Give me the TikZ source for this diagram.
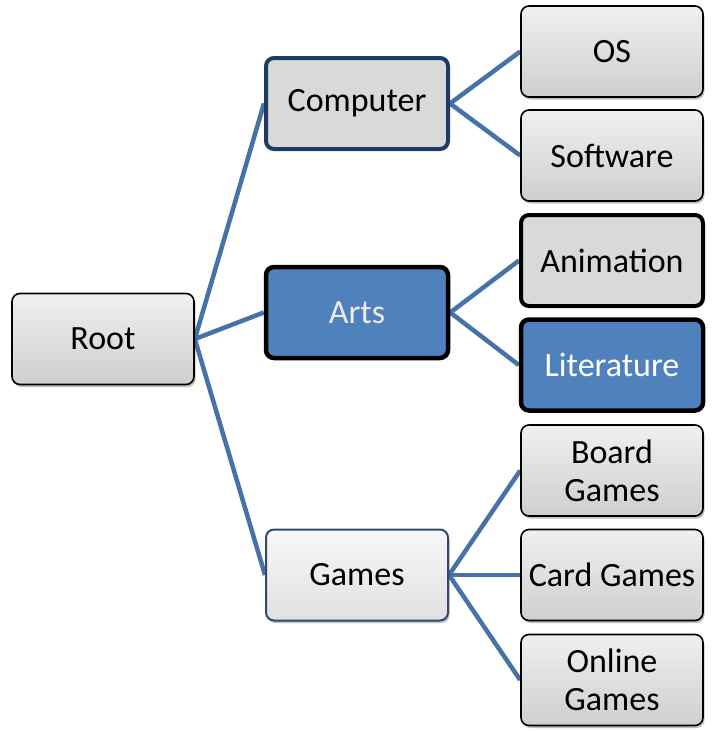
\documentclass[tikz,border=0pt]{standalone}
\usepackage{fontspec}
\setmainfont{Carlito}
\usetikzlibrary{shadows,backgrounds}
\definecolor{linkblue}{HTML}{4672A8}
\definecolor{accent}{HTML}{4F81BD}
\definecolor{darknavy}{HTML}{1F3B63}
\definecolor{gamesedge}{HTML}{2E4A6E}
\definecolor{cream}{HTML}{EEECE1}
\tikzset{
  box/.style={rectangle, rounded corners=8pt, minimum width=182pt, minimum height=91pt,
    inner sep=2pt, align=center, font=\fontsize{34}{38}\selectfont, text=black},
  gradbox/.style={box, draw=black, line width=1.6pt, top color=gray!12, bottom color=gray!38,
    drop shadow={shadow xshift=1.5pt, shadow yshift=-2.5pt, opacity=0.25, fill=black}},
  flatbox/.style={box, fill=gray!30, line width=4pt},
  bluebox/.style={box, fill=accent, draw=black, line width=4.5pt},
  gamesbox/.style={box, draw=gamesedge, line width=2pt, top color=gray!6, bottom color=gray!24,
    drop shadow={shadow xshift=1.5pt, shadow yshift=-2.5pt, opacity=0.25, fill=black}},
  link/.style={draw=linkblue, line width=4.5pt}
}
\begin{document}
\begin{tikzpicture}[x=1pt,y=-1pt]
\useasboundingbox (0,0) rectangle (712,731);
\node[gradbox] (root) at (103,339) {Root};
\node[flatbox, draw=darknavy] (computer) at (357,103.5) {Computer};
\node[bluebox, text=cream] (arts) at (357,312.5) {Arts};
\node[gamesbox] (games) at (357,575) {Games};
\node[gradbox] (os) at (612,51.5) {OS};
\node[gradbox] (software) at (612,155.5) {Software};
\node[flatbox, draw=black] (animation) at (612,260.5) {Animation};
\node[bluebox, text=white] (literature) at (612,365) {Literature};
\node[gradbox] (board) at (612,470.5) {Board\\Games};
\node[gradbox] (card) at (612,575) {Card Games};
\node[gradbox] (online) at (612,680) {Online\\Games};
\begin{scope}[on background layer]
\draw[link] (root.east) -- (computer.west);
\draw[link] (root.east) -- (arts.west);
\draw[link] (root.east) -- (games.west);
\draw[link] (computer.east) -- (os.west);
\draw[link] (computer.east) -- (software.west);
\draw[link] (arts.east) -- (animation.west);
\draw[link] (arts.east) -- (literature.west);
\draw[link] (games.east) -- (board.west);
\draw[link] (games.east) -- (card.west);
\draw[link] (games.east) -- (online.west);
\end{scope}
\end{tikzpicture}
\end{document}
